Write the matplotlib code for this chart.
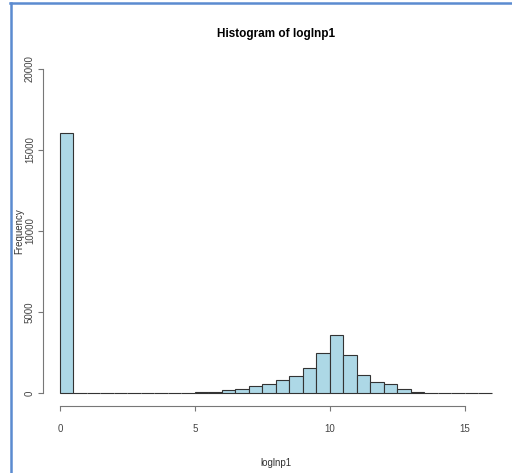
import numpy as np
import matplotlib.pyplot as plt
from matplotlib.lines import Line2D

# bin edges (width 0.5) and counts
breaks = np.arange(0, 16.5, 0.5)
counts = [16050, 0, 0, 0, 0, 0, 0, 10, 15, 20, 35, 80, 165, 270, 430, 555,
          780, 1050, 1540, 2470, 3600, 2330, 1110, 680, 555, 225, 80, 30,
          0, 0, 0, 0]
xticks = [0, 5, 10, 15]
yticks = [0, 5000, 10000, 15000, 20000]

plt.rcParams['font.family'] = ['Liberation Sans', 'DejaVu Sans']

fig = plt.figure(figsize=(5.12, 4.73), dpi=100)
ax = fig.add_axes([42.7 / 512, 1 - 406 / 473, (509 - 42.7) / 512, 350 / 473])

ax.bar(breaks[:-1], counts, width=0.5, align='edge', color='#add8e6',
       edgecolor='#333333', linewidth=0.8)

ax.set_xlim(-0.64, 16.64)
ax.set_ylim(-800, 20800)

for s in ['top', 'right']:
    ax.spines[s].set_visible(False)
ax.spines['left'].set_bounds(0, 20000)
ax.spines['bottom'].set_bounds(0, 15)
for s in ['left', 'bottom']:
    ax.spines[s].set_color('#777777')
    ax.spines[s].set_linewidth(0.8)

ax.set_xticks(xticks)
ax.set_xticklabels([str(t) for t in xticks])
ax.set_yticks(yticks)
ax.set_yticklabels([str(t) for t in yticks], rotation=90, va='center')
ax.tick_params(axis='both', colors='#777777', labelcolor='#444444',
               labelsize=7, length=3.6, width=0.8)
ax.tick_params(axis='x', pad=9)
ax.tick_params(axis='y', pad=2)

ax.set_xlabel('loglnp1', fontsize=7, color='#333333', labelpad=18)
ax.set_ylabel('Frequency', fontsize=7, color='#333333')
ax.yaxis.set_label_coords(-0.039, 0.5)
ax.set_title('Histogram of loglnp1', fontsize=8.5, fontweight='bold',
             pad=13.5)

# blue screenshot frame
fig.add_artist(Line2D([10.5 / 512, 10.5 / 512], [0, 1 - 3 / 473],
                      transform=fig.transFigure, color='#5b8bd0', lw=1.8))
fig.add_artist(Line2D([10 / 512, 1], [1 - 3.5 / 473, 1 - 3.5 / 473],
                      transform=fig.transFigure, color='#5b8bd0', lw=1.8))

fig.savefig('out.png', dpi=100)
